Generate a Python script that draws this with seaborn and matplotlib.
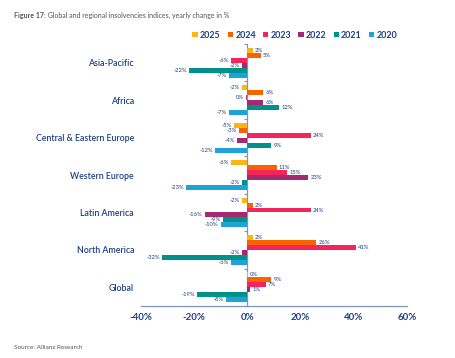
import numpy as np
import pandas as pd
import matplotlib.pyplot as plt
import seaborn as sns

# values (yearly change, %)
regions = ["Asia-Pacific", "Africa", "Central & Eastern Europe", "Western Europe",
           "Latin America", "North America", "Global"]
years = ["2025", "2024", "2023", "2022", "2021", "2020"]
y2025 = [2, -2, -5, -6, -2, 2, 0.3]
y2024 = [5, 6, -3, 11, 2, 26, 9]
y2023 = [-6, -0.4, 24, 15, 24, 41, 7]
y2022 = [-2, 6, -4, 23, -16, -2, 1]
y2021 = [-22, 12, 9, -2, -9, -32, -19]
y2020 = [-7, -7, -12, -23, -10, -6, -8]
colors = ["#FDB515", "#F76300", "#F5245A", "#A32A70", "#00928A", "#1DA3DA"]

navy = "#1E3F84"
grey = "#555555"

rows = []
for yr, vals in zip(years, [y2025, y2024, y2023, y2022, y2021, y2020]):
    for reg, v in zip(regions, vals):
        rows.append({"Region": reg, "Year": yr, "Change": v})
df = pd.DataFrame(rows)

sns.set_style("white")
plt.rcParams["font.family"] = ["Lato", "DejaVu Sans"]

fig = plt.figure(figsize=(4.55, 3.58), dpi=100)
ax = fig.add_axes([0.31, 0.145, 0.584, 0.732])

sns.barplot(data=df, y="Region", x="Change", hue="Year", hue_order=years,
            order=regions, palette=colors, orient="h", width=0.8,
            saturation=1, linewidth=0, ax=ax, legend=True)

for cont in ax.containers:
    vals = cont.datavalues
    ax.bar_label(cont, labels=[f"{int(round(v))}%" for v in vals],
                 padding=1.5, fontsize=4.2, color=navy)

ax.set_xlim(-40, 60)
ax.set_ylim(6.5, -0.5)
ax.set_xticks([-40, -20, 0, 20, 40, 60])
ax.set_xticklabels(["-40%", "-20%", "0%", "20%", "40%", "60%"])
ax.set_xlabel("")
ax.set_ylabel("")
for s in ["top", "right", "left"]:
    ax.spines[s].set_visible(False)
ax.spines["bottom"].set_color("#7E95C0")
ax.spines["bottom"].set_linewidth(0.9)
ax.tick_params(axis="x", direction="in", length=3, width=0.9, color="#7E95C0",
               labelsize=7, labelcolor=navy, pad=5)
for lbl in ax.get_xticklabels():
    lbl.set_fontweight("bold")
ax.tick_params(axis="y", length=0, pad=5, labelsize=6.3, labelcolor=navy)
for lbl in ax.get_yticklabels():
    lbl.set_fontweight("semibold")

# zero axis with small ticks between groups
sec = ax.secondary_yaxis(0.4)
sec.set_yticks(np.arange(-0.5, 7, 1.0))
sec.set_yticklabels([])
sec.spines["left"].set_color("#7E95C0")
sec.spines["left"].set_linewidth(0.9)
sec.tick_params(axis="y", length=2.5, width=0.8, color="#7E95C0")

handles, labels = ax.get_legend_handles_labels()
ax.legend_.remove()
leg = fig.legend(handles, labels, loc="center", bbox_to_anchor=(0.648, 0.902),
                 ncol=6, frameon=False, handlelength=0.6, handleheight=0.6,
                 handletextpad=0.25, columnspacing=0.8, fontsize=6.4)
for t in leg.get_texts():
    t.set_color(navy)
    t.set_fontweight("bold")

# title: bold prefix followed by regular text
t1 = fig.text(0.031, 0.958, "Figure 17:", fontsize=5, fontweight="bold",
              color=grey, va="center")
fig.canvas.draw()
bb = t1.get_window_extent()
fig.text(bb.x1 / fig.bbox.width, 0.958,
         " Global and regional insolvencies indices, yearly change in %",
         fontsize=5, color=grey, va="center")
fig.text(0.031, 0.028, "Source: Allianz Research", fontsize=4.6, color=grey,
         va="center")

fig.savefig("out.png", dpi=100)
